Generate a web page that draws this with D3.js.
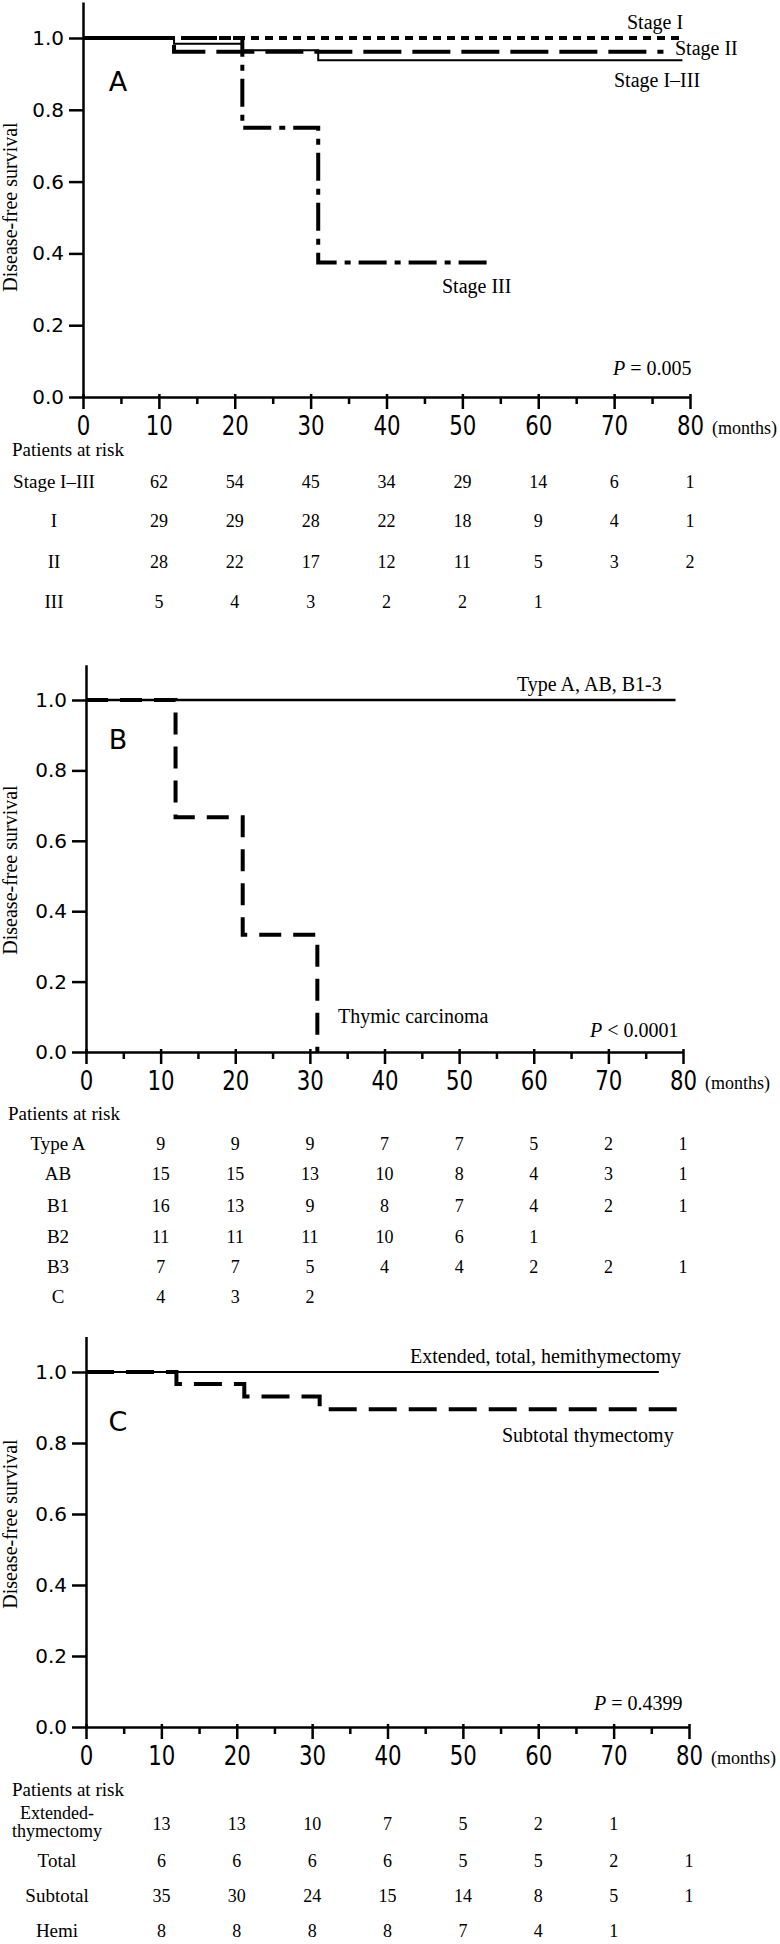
<!DOCTYPE html>
<html>
<head>
<meta charset="utf-8">
<script src="https://cdn.jsdelivr.net/npm/d3@7"></script>
<style>
  body { margin: 0; background: #fff; }
  svg text { fill: #000; }
</style>
</head>
<body>
<script>
// shared axis values
var xTicks = [0, 10, 20, 30, 40, 50, 60, 70, 80];
var xMinor = [5, 15, 25, 35, 45, 55, 65, 75];
var yTicks = [0, 0.2, 0.4, 0.6, 0.8, 1.0];
var riskMonths = [10, 20, 30, 40, 50, 60, 70, 80];

// panel A: stage
var stageAll = [[0, 1], [12, 0.984], [21, 0.966], [31, 0.938], [79, 0.938]];
var stageI = [[0, 1], [79, 1]];
var stageII = [[0, 1], [12, 0.962], [76.5, 0.962]];
var stageIII = [[0, 1], [21, 0.75], [31, 0.375], [54, 0.375]];
var riskLabelsA = ['Stage I\u2013III', 'I', 'II', 'III'];
var riskA = [
  [62, 54, 45, 34, 29, 14, 6, 1],
  [29, 29, 28, 22, 18, 9, 4, 1],
  [28, 22, 17, 12, 11, 5, 3, 2],
  [5, 4, 3, 2, 2, 1]
];

// panel B: histology
var thymoma = [[0, 1], [79, 1]];
var carcinoma = [[0, 1], [12, 0.667], [21, 0.333], [31, 0]];
var riskLabelsB = ['Type A', 'AB', 'B1', 'B2', 'B3', 'C'];
var riskB = [
  [9, 9, 9, 7, 7, 5, 2, 1],
  [15, 15, 13, 10, 8, 4, 3, 1],
  [16, 13, 9, 8, 7, 4, 2, 1],
  [11, 11, 11, 10, 6, 1],
  [7, 7, 5, 4, 4, 2, 2, 1],
  [4, 3, 2]
];

// panel C: surgery
var extended = [[0, 1], [76, 1]];
var subtotal = [[0, 1], [12, 0.966], [21, 0.931], [31, 0.895], [79, 0.895]];
var riskLabelsC = ['Extended-\nthymectomy', 'Total', 'Subtotal', 'Hemi'];
var riskC = [
  [13, 13, 10, 7, 5, 2, 1],
  [6, 6, 6, 6, 5, 5, 2, 1],
  [35, 30, 24, 15, 14, 8, 5, 1],
  [8, 8, 8, 8, 7, 4, 1]
];

var serif = '"Liberation Serif", "Times New Roman", serif';
var sans = '"DejaVu Sans", Verdana, sans-serif';

var svg = d3.select('body').append('svg').attr('width', 780).attr('height', 1944);

function drawPanel(cfg) {
  var x = d3.scaleLinear().domain([0, 80]).range([cfg.left, cfg.right]);
  var unit = cfg.zero - cfg.one;
  var y = d3.scaleLinear().domain([0, 1.1]).range([cfg.zero, cfg.zero - 1.1 * unit]);

  // minor x ticks
  var minor = svg.append('g').attr('transform', `translate(0,${cfg.zero})`)
    .call(d3.axisBottom(x).tickValues(xMinor).tickSize(7).tickSizeOuter(0).tickFormat(''));
  minor.select('.domain').remove();
  minor.selectAll('line').attr('stroke-width', 2.5);

  var xAxis = svg.append('g').attr('transform', `translate(0,${cfg.zero})`)
    .call(d3.axisBottom(x).tickValues(xTicks).tickSize(12).tickSizeOuter(0));
  xAxis.select('.domain').attr('stroke-width', 2.5);
  xAxis.selectAll('line').attr('stroke-width', 2.5).attr('y1', -3);
  xAxis.selectAll('text')
    .attr('y', 38).attr('dy', null)
    .attr('transform', 'scale(0.82,1)')
    .attr('font-family', sans).attr('font-size', 26);

  var yAxis = svg.append('g').attr('transform', `translate(${cfg.left},0)`)
    .call(d3.axisLeft(y).tickValues(yTicks).tickSize(14).tickPadding(5)
      .tickSizeOuter(0).tickFormat(d3.format('.1f')));
  yAxis.select('.domain').attr('stroke-width', 2.5);
  yAxis.selectAll('line').attr('stroke-width', 2.5);
  yAxis.selectAll('text').attr('font-family', sans).attr('font-size', 20);

  svg.append('text')
    .attr('transform', `translate(17,${cfg.ylabelY}) rotate(-90)`)
    .attr('text-anchor', 'middle')
    .attr('font-family', serif).attr('font-size', 20)
    .text('Disease-free survival');

  svg.append('text')
    .attr('x', 118).attr('y', cfg.letterY)
    .attr('text-anchor', 'middle')
    .attr('font-family', sans).attr('font-size', 27)
    .text(cfg.letter);

  svg.append('text')
    .attr('x', x(80) + 22).attr('y', cfg.zero + 37)
    .attr('font-family', serif).attr('font-size', 18)
    .text('(months)');

  var line = d3.line()
    .x(function (d) { return x(d[0]); })
    .y(function (d) { return y(d[1]); })
    .curve(d3.curveStepAfter);

  cfg.curves.forEach(function (c) {
    svg.append('path')
      .attr('d', line(c.data))
      .attr('fill', 'none')
      .attr('stroke', '#000')
      .attr('stroke-width', c.width)
      .attr('stroke-dasharray', c.dash || null);
  });

  cfg.notes.forEach(function (n) {
    var t = svg.append('text')
      .attr('x', n.x).attr('y', n.y)
      .attr('font-family', serif).attr('font-size', 20);
    if (n.p) {
      t.append('tspan').attr('font-style', 'italic').text('P');
      t.append('tspan').text(n.t);
    } else {
      t.text(n.t);
    }
  });

  // patients at risk table
  svg.append('text')
    .attr('x', cfg.riskTitleX).attr('y', cfg.riskTitleY)
    .attr('font-family', serif).attr('font-size', 19)
    .text('Patients at risk');

  cfg.riskLabels.forEach(function (lab, i) {
    var rowY = cfg.riskRows[i];
    var parts = lab.split('\n');
    var t = svg.append('text')
      .attr('text-anchor', 'middle')
      .attr('font-family', serif).attr('font-size', 19);
    if (parts.length > 1) {
      t.attr('font-size', 18);
      t.append('tspan').attr('x', cfg.riskLabelX).attr('y', rowY - 11).text(parts[0]);
      t.append('tspan').attr('x', cfg.riskLabelX).attr('y', rowY + 7).text(parts[1]);
    } else {
      t.attr('x', cfg.riskLabelX).attr('y', rowY).text(lab);
    }
    svg.append('g').selectAll('text')
      .data(cfg.risk[i])
      .enter().append('text')
      .attr('x', function (d, j) { return x(riskMonths[j]); })
      .attr('y', rowY)
      .attr('text-anchor', 'middle')
      .attr('font-family', serif).attr('font-size', 18)
      .text(function (d) { return d; });
  });
}

drawPanel({
  left: 83, right: 690, zero: 397, one: 38,
  letter: 'A', letterY: 91, ylabelY: 207,
  curves: [
    { data: stageIII, width: 4, dash: '28,8,6,8' },
    { data: stageII, width: 4, dash: '38,11' },
    { data: stageI, width: 4, dash: '8,6' },
    { data: stageAll, width: 2 }
  ],
  notes: [
    { t: 'Stage I', x: 627, y: 29 },
    { t: 'Stage II', x: 675, y: 55 },
    { t: 'Stage I\u2013III', x: 614, y: 87 },
    { t: 'Stage III', x: 442, y: 293 },
    { t: ' = 0.005', x: 613, y: 375, p: true }
  ],
  riskTitleX: 12, riskTitleY: 456,
  riskLabelX: 54, riskLabels: riskLabelsA, risk: riskA,
  riskRows: [488, 527, 568, 608]
});

drawPanel({
  left: 86, right: 683, zero: 1052, one: 700,
  letter: 'B', letterY: 749, ylabelY: 870,
  curves: [
    { data: thymoma, width: 2.5 },
    { data: carcinoma, width: 4, dash: '22,12' }
  ],
  notes: [
    { t: 'Type A, AB, B1-3', x: 517, y: 691 },
    { t: 'Thymic carcinoma', x: 338, y: 1023 },
    { t: ' < 0.0001', x: 590, y: 1037, p: true }
  ],
  riskTitleX: 8, riskTitleY: 1120,
  riskLabelX: 58, riskLabels: riskLabelsB, risk: riskB,
  riskRows: [1150, 1180, 1212, 1243, 1273, 1303]
});

drawPanel({
  left: 86, right: 689, zero: 1727, one: 1372,
  letter: 'C', letterY: 1431, ylabelY: 1524,
  curves: [
    { data: extended, width: 2 },
    { data: subtotal, width: 4, dash: '28,12' }
  ],
  notes: [
    { t: 'Extended, total, hemithymectomy', x: 410, y: 1363 },
    { t: 'Subtotal thymectomy', x: 502, y: 1442 },
    { t: ' = 0.4399', x: 594, y: 1710, p: true }
  ],
  riskTitleX: 12, riskTitleY: 1796,
  riskLabelX: 57, riskLabels: riskLabelsC, risk: riskC,
  riskRows: [1830, 1867, 1902, 1937]
});
</script>
</body>
</html>
